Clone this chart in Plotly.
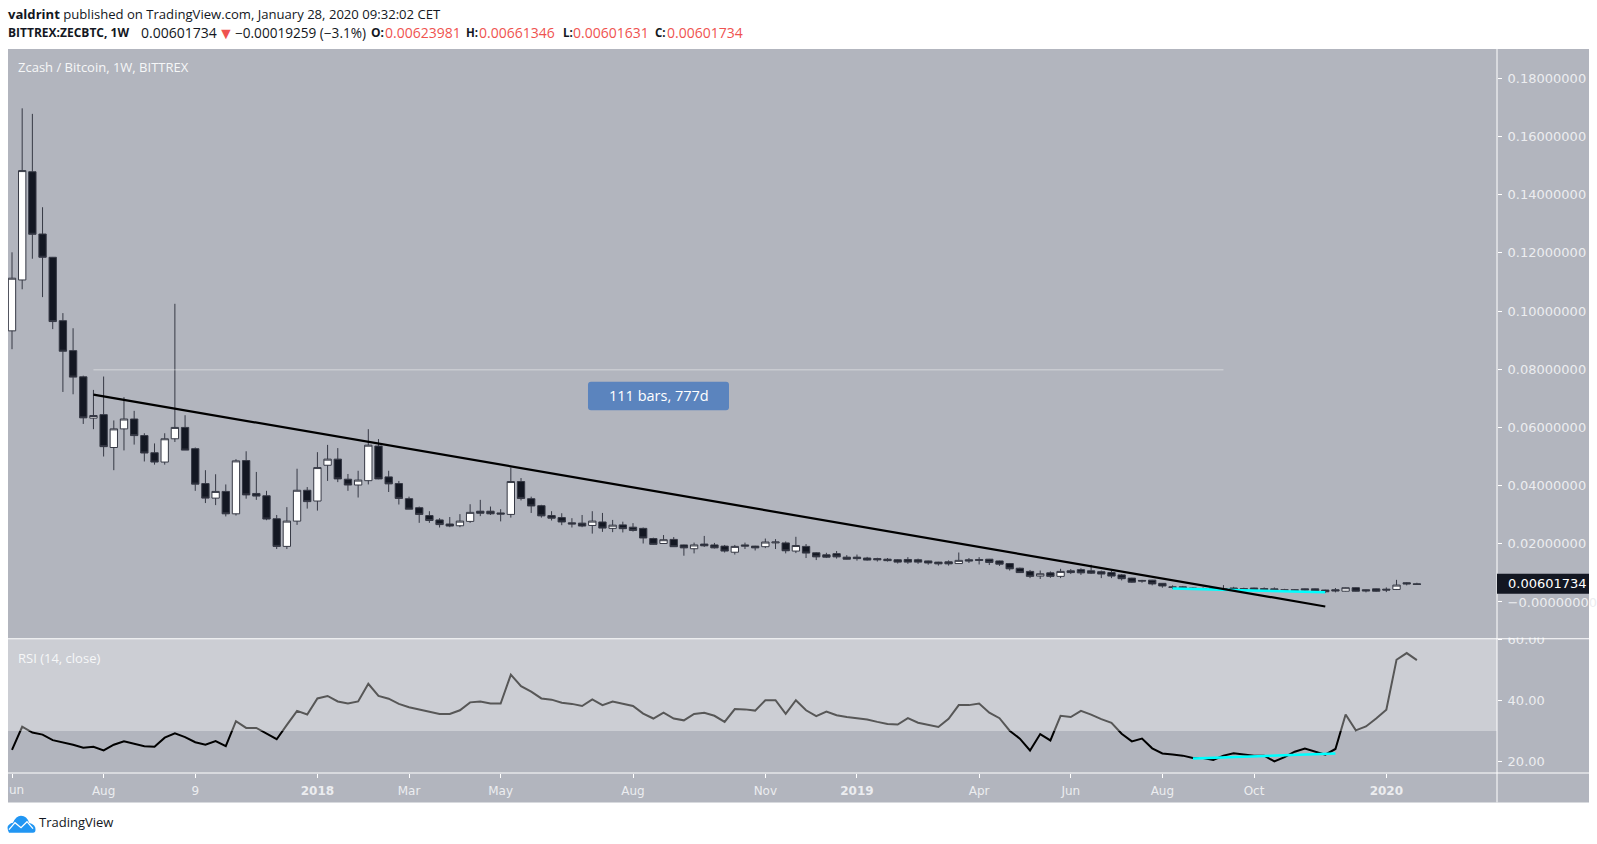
import numpy as np
import plotly.graph_objects as go

# Weekly candles, prices in thousandths of a BTC
opens = [93.2,110.7,147.9,126.5,118.5,96.7,86.4,77.4,63.2,64.4,53.1,59.5,62.9,57.2,51.3,48.1,56.1,60.0,52.7,40.7,
 35.7,38.0,30.3,48.6,37.3,36.5,28.6,19.1,27.8,38.4,34.7,47.0,49.1,42.2,40.2,41.7,53.6,43.0,40.7,35.5,
 32.4,29.7,28.2,26.8,26.2,27.7,31.2,31.2,30.6,30.1,41.4,35.5,33.1,29.7,29.0,27.2,27.1,26.3,27.5,25.3,
 26.5,25.7,25.3,21.8,20.1,21.5,19.6,18.3,19.9,19.6,19.2,17.1,19.6,19.2,19.0,20.3,20.3,17.5,19.1,16.9,
 16.2,16.6,15.4,15.4,15.1,14.9,14.7,14.5,14.6,14.5,14.1,13.7,13.8,13.2,14.5,14.6,14.7,14.1,13.2,11.6,
 10.5,8.9,10.0,8.8,10.7,11.1,10.7,10.4,10.1,9.3,8.2,7.4,7.5,6.4,5.2,5.2,4.8,4.6,4.8,4.6,
 4.8,4.6,4.8,4.6,4.5,4.2,4.2,4.5,4.5,4.1,4.2,3.7,4.9,4.2,4.5,4.4,4.3,6.6,6.24]
highs = [120.2,169.7,167.8,135.7,118.6,99.3,94.1,77.8,72.9,77.5,62.4,70.4,65.7,58.0,54.5,58.0,102.5,64.2,53.1,45.3,
 43.9,40.4,49.1,51.8,44.7,38.2,29.9,32.6,45.8,39.5,51.5,54.0,52.9,44.0,45.1,59.4,56.0,45.1,41.6,36.2,
 32.8,31.2,28.8,29.2,30.2,33.6,35.1,32.8,31.9,46.2,42.6,36.2,33.4,31.2,30.5,28.8,29.9,31.2,30.6,28.2,
 27.6,27.1,25.6,22.1,23.0,22.3,19.7,20.4,22.7,20.3,19.6,19.6,20.4,19.3,21.8,21.6,20.8,22.4,19.9,17.1,
 16.9,17.5,16.1,16.3,15.5,15.2,15.1,14.7,15.4,14.9,14.2,13.8,14.3,17.0,15.1,15.4,14.8,14.2,13.4,11.8,
 11.0,10.8,10.5,11.4,11.3,11.6,12.8,10.8,10.7,9.6,8.3,7.6,7.6,6.5,5.7,5.5,5.0,5.0,5.0,5.8,
 5.2,4.9,4.9,5.0,5.0,4.5,4.4,4.6,4.6,4.2,4.8,5.0,5.0,4.3,4.6,5.0,7.6,6.8,6.61]
lows = [86.9,107.5,118.0,104.8,93.8,72.2,71.4,61.2,59.4,50.0,45.3,52.1,54.1,48.3,47.2,47.2,55.0,52.2,38.2,34.0,
 33.3,29.4,29.7,35.5,35.1,28.1,18.2,18.2,26.5,32.1,31.4,41.6,41.2,38.2,35.9,40.4,42.2,37.8,33.5,31.9,
 27.2,27.2,25.6,25.7,25.7,27.2,29.5,29.9,27.7,29.0,34.9,30.6,29.0,28.0,26.4,25.6,25.7,23.5,24.1,24.0,
 23.9,24.2,20.1,19.7,20.0,18.9,15.9,16.7,18.9,18.4,17.0,16.3,18.2,17.7,18.5,18.2,16.7,16.8,15.1,14.4,
 15.1,14.9,14.6,14.2,14.2,13.9,13.9,13.2,13.1,13.1,12.8,12.5,12.5,13.1,13.4,12.9,12.7,12.4,10.8,10.0,
 8.2,7.9,8.3,8.2,9.6,9.3,9.6,8.2,8.2,7.4,6.6,6.6,5.7,4.9,4.5,4.6,4.2,4.3,4.2,4.2,
 3.8,4.0,4.1,3.8,4.0,3.5,3.5,3.8,3.5,3.1,3.3,3.6,3.6,3.3,3.5,3.4,4.1,5.7,6.02]
closes = [111.3,148.3,126.4,118.5,96.4,86.2,77.3,63.3,64.1,53.4,59.5,62.9,57.2,51.2,48.1,56.1,60.0,52.2,40.5,35.7,
 38.0,30.3,48.5,36.8,36.4,28.5,19.1,27.8,38.4,34.5,46.2,49.1,42.3,40.2,41.9,53.9,42.3,40.6,35.6,31.9,
 30.1,28.0,26.6,26.1,27.8,30.8,30.5,30.3,30.2,41.4,35.6,33.0,29.6,28.8,27.5,26.8,26.1,27.8,25.4,26.4,
 25.2,24.6,22.0,19.8,21.4,19.0,18.6,19.6,19.3,18.6,17.5,19.1,19.2,18.6,20.6,20.6,17.6,19.4,16.8,15.5,
 15.4,15.5,14.7,14.9,14.4,14.5,14.2,13.7,13.7,13.7,13.4,13.1,13.1,14.3,14.1,14.3,13.6,13.0,11.4,10.1,
 8.8,9.7,8.8,10.5,10.1,10.0,9.9,9.6,8.9,8.0,6.8,7.2,6.2,5.5,5.0,4.9,4.4,4.4,4.4,4.4,
 4.4,4.3,4.3,4.3,4.2,4.0,4.0,4.1,3.8,3.5,3.8,4.9,3.7,3.8,3.7,4.1,5.8,6.21,6.02]
rsi = [23.8,31.4,29.5,28.8,27.0,26.3,25.5,24.5,24.8,23.6,25.5,26.6,25.8,25.0,24.8,27.8,29.2,28.0,26.3,25.5,
 26.7,25.0,33.2,31.0,31.0,29.1,27.3,32.0,36.6,35.4,40.7,41.5,39.7,39.0,39.7,45.5,41.5,40.6,38.9,37.8,
 37.0,36.2,35.6,35.6,36.8,39.4,39.7,39.0,39.0,48.5,44.7,42.9,40.7,40.3,39.3,38.9,38.2,40.4,38.5,39.7,
 39.0,38.2,35.7,34.1,36.0,34.1,33.5,35.6,36.0,35.0,33.0,37.2,37.1,36.7,40.1,40.1,35.6,40.1,36.8,34.9,
 36.4,35.2,34.6,34.2,33.8,33.0,32.3,32.1,34.2,32.7,32.1,31.3,34.0,38.5,38.5,39.0,36.0,34.2,30.1,27.5,
 23.6,29.0,26.9,35.0,34.6,36.6,35.4,33.9,32.7,29.1,26.6,27.5,24.3,22.6,22.3,21.9,21.1,21.1,20.5,21.9,
 22.7,22.3,21.9,21.9,20.0,21.4,23.2,24.2,23.1,22.2,24.1,35.4,30.2,31.5,34.1,37.0,53.4,55.6,53.3]
bar_index = list(range(len(closes)))

price_ticks = [0.18, 0.16, 0.14, 0.12, 0.10, 0.08, 0.06, 0.04, 0.02, 0.0]
price_labels = ["0.18000000","0.16000000","0.14000000","0.12000000","0.10000000","0.08000000",
                "0.06000000","0.04000000","0.02000000","\u22120.00000000"]
rsi_ticks = [60, 40, 20]
rsi_labels = ["60.00", "40.00", "20.00"]
time_ticks = [0, 9, 18, 30, 39, 48, 61, 74, 83, 95, 104, 113, 122, 135]
time_labels = ["","Aug","9","<b>2018</b>","Mar","May","Aug","Nov","<b>2019</b>","Apr","Jun","Aug","Oct","<b>2020</b>"]

trend_x = [8, 129]
trend_y = [0.0713, -0.00155]
support_x = [114, 129]
support_y = [0.0046, 0.0033]
range_x = [8, 119]
range_y = [0.0798, 0.0798]
rsi_support_x = [116, 130]
rsi_support_y = [21.0, 22.6]

W, H = 1597, 844
L, R, T, B, SEP = 8, 1497, 49, 773.3, 639
BG = "#B2B5BE"
AXT = "#ECEDF0"
px = lambda v: (v - L) / (R - L)
py = lambda v: (B - v) / (B - T)
sep = py(SEP)

m = lambda a: (np.array(a) / 1000).tolist()

fig = go.Figure()
fig.add_trace(go.Candlestick(
    x=bar_index, open=m(opens), high=m(highs), low=m(lows), close=m(closes), yaxis="y", xaxis="x",
    whiskerwidth=0,
    increasing=dict(fillcolor="#FFFFFF", line=dict(color="#363945", width=1)),
    decreasing=dict(fillcolor="#131722", line=dict(color="#363945", width=1)),
    showlegend=False))
fig.add_trace(go.Scatter(x=range_x, y=range_y, mode="lines", yaxis="y", line=dict(color="rgba(255,255,255,0.45)", width=1), showlegend=False))
fig.add_trace(go.Scatter(x=support_x, y=support_y, mode="lines", yaxis="y", line=dict(color="#00FFFF", width=2.5), showlegend=False))
fig.add_trace(go.Scatter(x=trend_x, y=trend_y, mode="lines", yaxis="y", line=dict(color="#000000", width=2.2), showlegend=False))
fig.add_trace(go.Scatter(x=bar_index, y=rsi, mode="lines", yaxis="y2", line=dict(color="#000000", width=2), showlegend=False))
fig.add_trace(go.Scatter(x=rsi_support_x, y=rsi_support_y, mode="lines", yaxis="y2", line=dict(color="#00FFFF", width=2.5), showlegend=False))

def pline(x0, y0, x1, y1, w=1):
    return dict(type="line", xref="paper", yref="paper", x0=px(x0), x1=px(x1), y0=py(y0), y1=py(y1),
                line=dict(color="#FFFFFF", width=w), layer="above")

def ppath(cmds, **kw):
    # cmds: SVG-like list of (letter, x, y, ...) in page pixels
    out = []
    for c in cmds:
        if c[0] == "Z":
            out.append("Z")
        else:
            nums = c[1:]
            pts = ["%.5f,%.5f" % (px(nums[i]), py(nums[i + 1])) for i in range(0, len(nums), 2)]
            out.append(c[0] + " ".join(pts))
    return dict(type="path", xref="paper", yref="paper", path=" ".join(out), **kw)

bx0, bx1, by0, by1, r = 588, 729, 382, 410.5, 3
shapes = [
    dict(type="rect", xref="paper", yref="paper", x0=px(8), x1=px(1589), y0=py(49), y1=py(802.7),
         fillcolor=BG, line=dict(width=0), layer="below"),
    dict(type="rect", xref="paper", yref="y2", x0=0, x1=1, y0=30, y1=60.3,
         fillcolor="rgba(255,255,255,0.34)", line=dict(width=0), layer="above"),
    pline(8, SEP, 1589, SEP), pline(8, B, 1589, B), pline(R, 49, R, 802.7),
    dict(type="rect", xref="paper", yref="paper", x0=px(1497), x1=px(1589), y0=py(574), y1=py(594),
         fillcolor="#131722", line=dict(width=0), layer="above"),
    ppath([("M", bx0 + r, by0), ("L", bx1 - r, by0), ("Q", bx1, by0, bx1, by0 + r), ("L", bx1, by1 - r),
           ("Q", bx1, by1, bx1 - r, by1), ("L", bx0 + r, by1), ("Q", bx0, by1, bx0, by1 - r),
           ("L", bx0, by0 + r), ("Q", bx0, by0, bx0 + r, by0), ("Z",)],
          fillcolor="#5B84BE", line=dict(width=0), layer="above"),
    # TradingView logo
    ppath([("M", 9, 833), ("Q", 6, 827, 9, 825), ("Q", 11, 823, 13, 823), ("Q", 16, 816, 21, 816),
           ("Q", 27, 816, 29, 823), ("Q", 36, 825, 35.5, 830), ("Q", 35.5, 833, 33, 833), ("Z",)],
          fillcolor="#2196F3", line=dict(width=0), layer="above"),
    ppath([("M", 9, 830), ("L", 15, 823), ("L", 21, 828), ("L", 27, 822), ("L", 33, 829)],
          line=dict(color="#FFFFFF", width=1.3), layer="above"),
]

anns = []
def note(x, y, text, size, color="#000000", font="Open Sans", anchor="left", **kw):
    anns.append(dict(xref="paper", yref="paper", x=px(x), y=py(y), text=text, showarrow=False,
                     xanchor=anchor, yanchor="middle", font=dict(family=font, size=size, color=color), **kw))

INK = "#131722"
RED = "#EF5350"
note(6, 14, "<b>valdrint</b> published on TradingView.com, January 28, 2020 09:32:02 CET", 13.1, INK)
note(6, 32.5, "<b>BITTREX:ZECBTC, 1W</b>", 12, INK)
note(138.5, 32.5, "0.00601734", 14, INK)
note(216, 32.5, "\u25BC", 16, RED)
note(233, 32.5, "\u22120.00019259 (\u22123.1%)", 13.6, INK)
note(369, 32.5, "<b>O:</b>", 12, INK)
note(383, 32.5, "0.00623981", 14, RED)
note(464, 32.5, "<b>H:</b>", 11.5, INK)
note(476.5, 32.5, "0.00661346", 14, RED)
note(560.5, 32.5, "<b>L:</b>", 11.5, INK)
note(570.5, 32.5, "0.00601631", 14, RED)
note(652.5, 32.5, "<b>C:</b>", 11.5, INK)
note(664.5, 32.5, "0.00601734", 14, RED)
note(16, 67, "Zcash / Bitcoin, 1W, BITTREX", 13, "#F6F7F8")
note(16, 658, "RSI (14, close)", 13, "#F6F7F8")
note(1505.5, 584, "0.00601734", 13, "#FFFFFF", font="DejaVu Sans")
note(658.5, 396, "111 bars, 777d", 14.5, "#FFFFFF", anchor="center")
note(37, 822.5, "TradingView", 13, INK)
note(7, 790.7, "un", 12, AXT, font="DejaVu Sans")
# the 60.00 label is cut by the pane edge in the reference
note(1499, 632.5, " ", 1, BG, bgcolor=BG, width=84, height=8)

fig.update_layout(
    width=W, height=H, autosize=False,
    margin=dict(l=L, r=W - R, t=T, b=H - B, pad=0, autoexpand=False),
    paper_bgcolor="#FFFFFF", plot_bgcolor=BG,
    boxgap=0.28, boxgroupgap=0,
    showlegend=False, shapes=shapes, annotations=anns,
    xaxis=dict(domain=[0, 1], range=[-0.393, 145.87], anchor="y2", rangeslider=dict(visible=False),
               tickvals=time_ticks, ticktext=time_labels, ticks="outside", ticklen=4, tickcolor="#FFFFFF",
               ticklabelstandoff=3,
               tickfont=dict(family="DejaVu Sans", size=12, color=AXT), showgrid=False, zeroline=False, showline=False),
    yaxis=dict(domain=[sep, 1], range=[-0.01265, 0.1901], side="right", anchor="x",
               tickvals=price_ticks, ticktext=price_labels, ticks="outside", ticklen=4, tickcolor="#FFFFFF",
               ticklabelstandoff=3,
               tickfont=dict(family="DejaVu Sans", size=13, color=AXT), showgrid=False, zeroline=False, showline=False),
    yaxis2=dict(domain=[0, sep], range=[16.2, 60.3], side="right", anchor="x",
                tickvals=rsi_ticks, ticktext=rsi_labels, ticks="outside", ticklen=4, tickcolor="#FFFFFF",
                ticklabelstandoff=3,
                tickfont=dict(family="DejaVu Sans", size=13, color=AXT), showgrid=False, zeroline=False, showline=False),
)
fig.write_html("out.html", config={"displayModeBar": False},
               post_script="document.body.style.margin='0';document.body.style.overflow='hidden';")
